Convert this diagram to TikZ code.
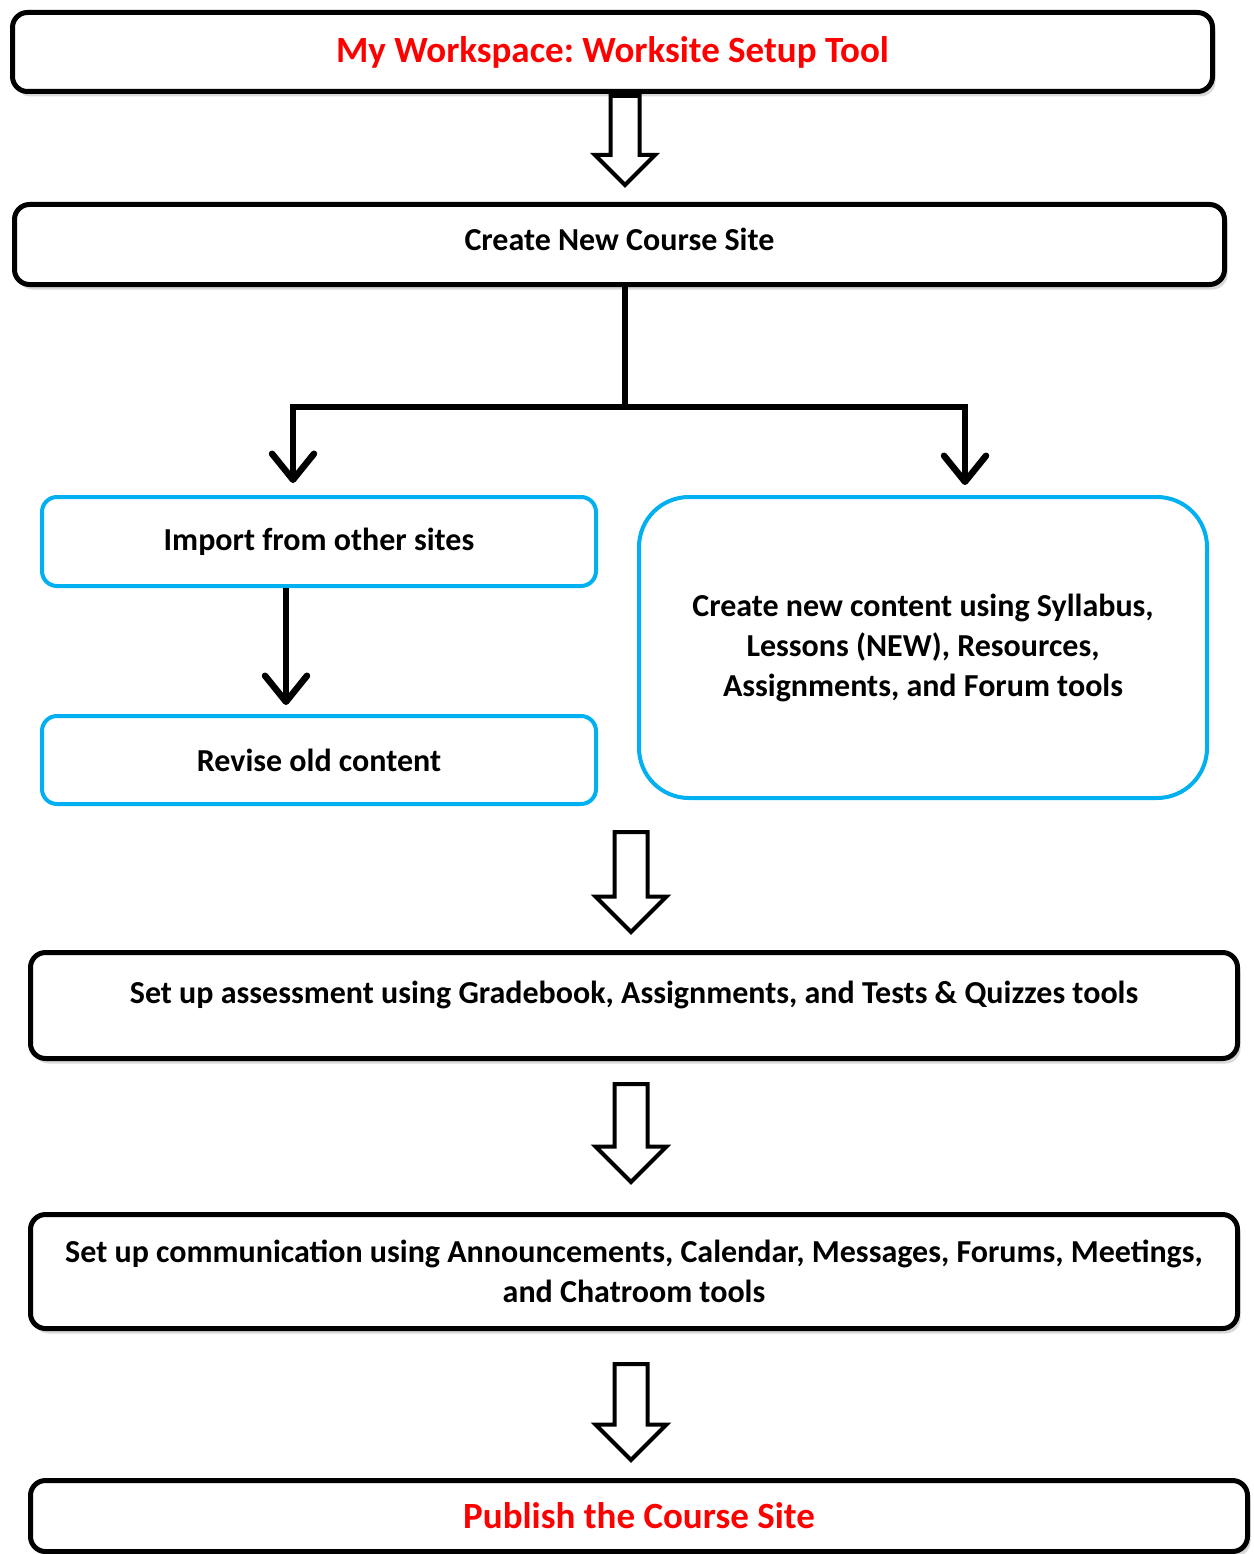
\documentclass[tikz,border=0pt]{standalone}
\usepackage{fontspec}
\setmainfont{Carlito}
\frenchspacing
\usetikzlibrary{shapes.arrows,shadows,arrows.meta}
\definecolor{boxcyan}{HTML}{00B0F0}
\definecolor{titlered}{HTML}{FF0000}
\tikzset{
  stepfont/.style={font=\fontsize{32}{40}\selectfont\bfseries},
  blackbox/.style={draw,line width=5pt,rounded corners=15pt,fill=white,
    drop shadow={opacity=.3,shadow xshift=3pt,shadow yshift=-5pt},
    stepfont,align=center,inner sep=0pt},
  cyanbox/.style={draw=boxcyan,line width=4pt,rounded corners=15pt,fill=white,
    stepfont,align=center,inner sep=0pt},
  hollow/.style={single arrow,draw,fill=white,line width=4pt,rotate=-90,anchor=tail,
    inner xsep=0pt,minimum height=#1},
  conn/.style={line width=6pt,
    -{Straight Barb[length=26pt,width=42pt,line width=6.5pt,round]}}
}
\begin{document}
\begin{tikzpicture}[x=1pt,y=-1pt]
  \useasboundingbox (0,0) rectangle (1253,1554);
  \node[blackbox,minimum width=1200pt,minimum height=79pt,
    text=titlered,font=\fontsize{37}{44}\selectfont\bfseries] (ws) at (612.5,52)
    {My Workspace: Worksite Setup Tool};
  \node[blackbox,minimum width=1210pt,minimum height=80pt,text depth=10pt] (create)
    at (619.5,244.5) {Create New Course Site};
  \node[cyanbox,minimum width=554pt,minimum height=89pt] (imp) at (319,541.5)
    {Import from other sites};
  \node[cyanbox,minimum width=554pt,minimum height=88pt] (rev) at (319,760)
    {Revise old content};
  \node[cyanbox,rounded corners=50pt,minimum width=568pt,minimum height=301pt] (new)
    at (923,647.5) {Create new content using Syllabus,\\ Lessons (NEW), Resources,\\
    Assignments, and Forum tools};
  \node[blackbox,minimum width=1207pt,minimum height=106pt,text depth=26pt] (assess)
    at (634,1005.5)
    {Set up assessment using Gradebook, Assignments, and Tests \& Quizzes tools};
  \node[blackbox,minimum width=1207pt,minimum height=114pt] (comm) at (634,1271.5)
    {Set up communication using Announcements, Calendar, Messages, Forums, Meetings,\\
    and Chatroom tools};
  \node[blackbox,minimum width=1217pt,minimum height=71pt,
    text=titlered,font=\fontsize{37}{44}\selectfont\bfseries] (pub) at (639,1516)
    {Publish the Course Site};
  % hollow arrows between the stages
  \node[hollow=89pt,inner ysep=12.5pt,single arrow head extend=15.5pt] (a1)
    at (625,94) {};
  \node[hollow=100pt,inner ysep=14.5pt,single arrow head extend=19pt] (a2)
    at (631,830) {};
  \node[hollow=98pt,inner ysep=14.5pt,single arrow head extend=19pt] (a3)
    at (631,1082) {};
  \node[hollow=96pt,inner ysep=14.5pt,single arrow head extend=19pt] (a4)
    at (631,1362) {};
  % the fork
  \coordinate (fork) at (625,407);
  \draw[line width=6pt] (create.south -| fork) -- (fork);
  \draw[conn] (fork) -| ([xshift=-26pt,yshift=12pt]imp.north);
  \draw[conn] (fork) -| ([xshift=42pt,yshift=10pt]new.north);
  \draw[conn] ([xshift=-33pt]imp.south) -- ([xshift=-33pt,yshift=9pt]rev.north);
\end{tikzpicture}
\end{document}
